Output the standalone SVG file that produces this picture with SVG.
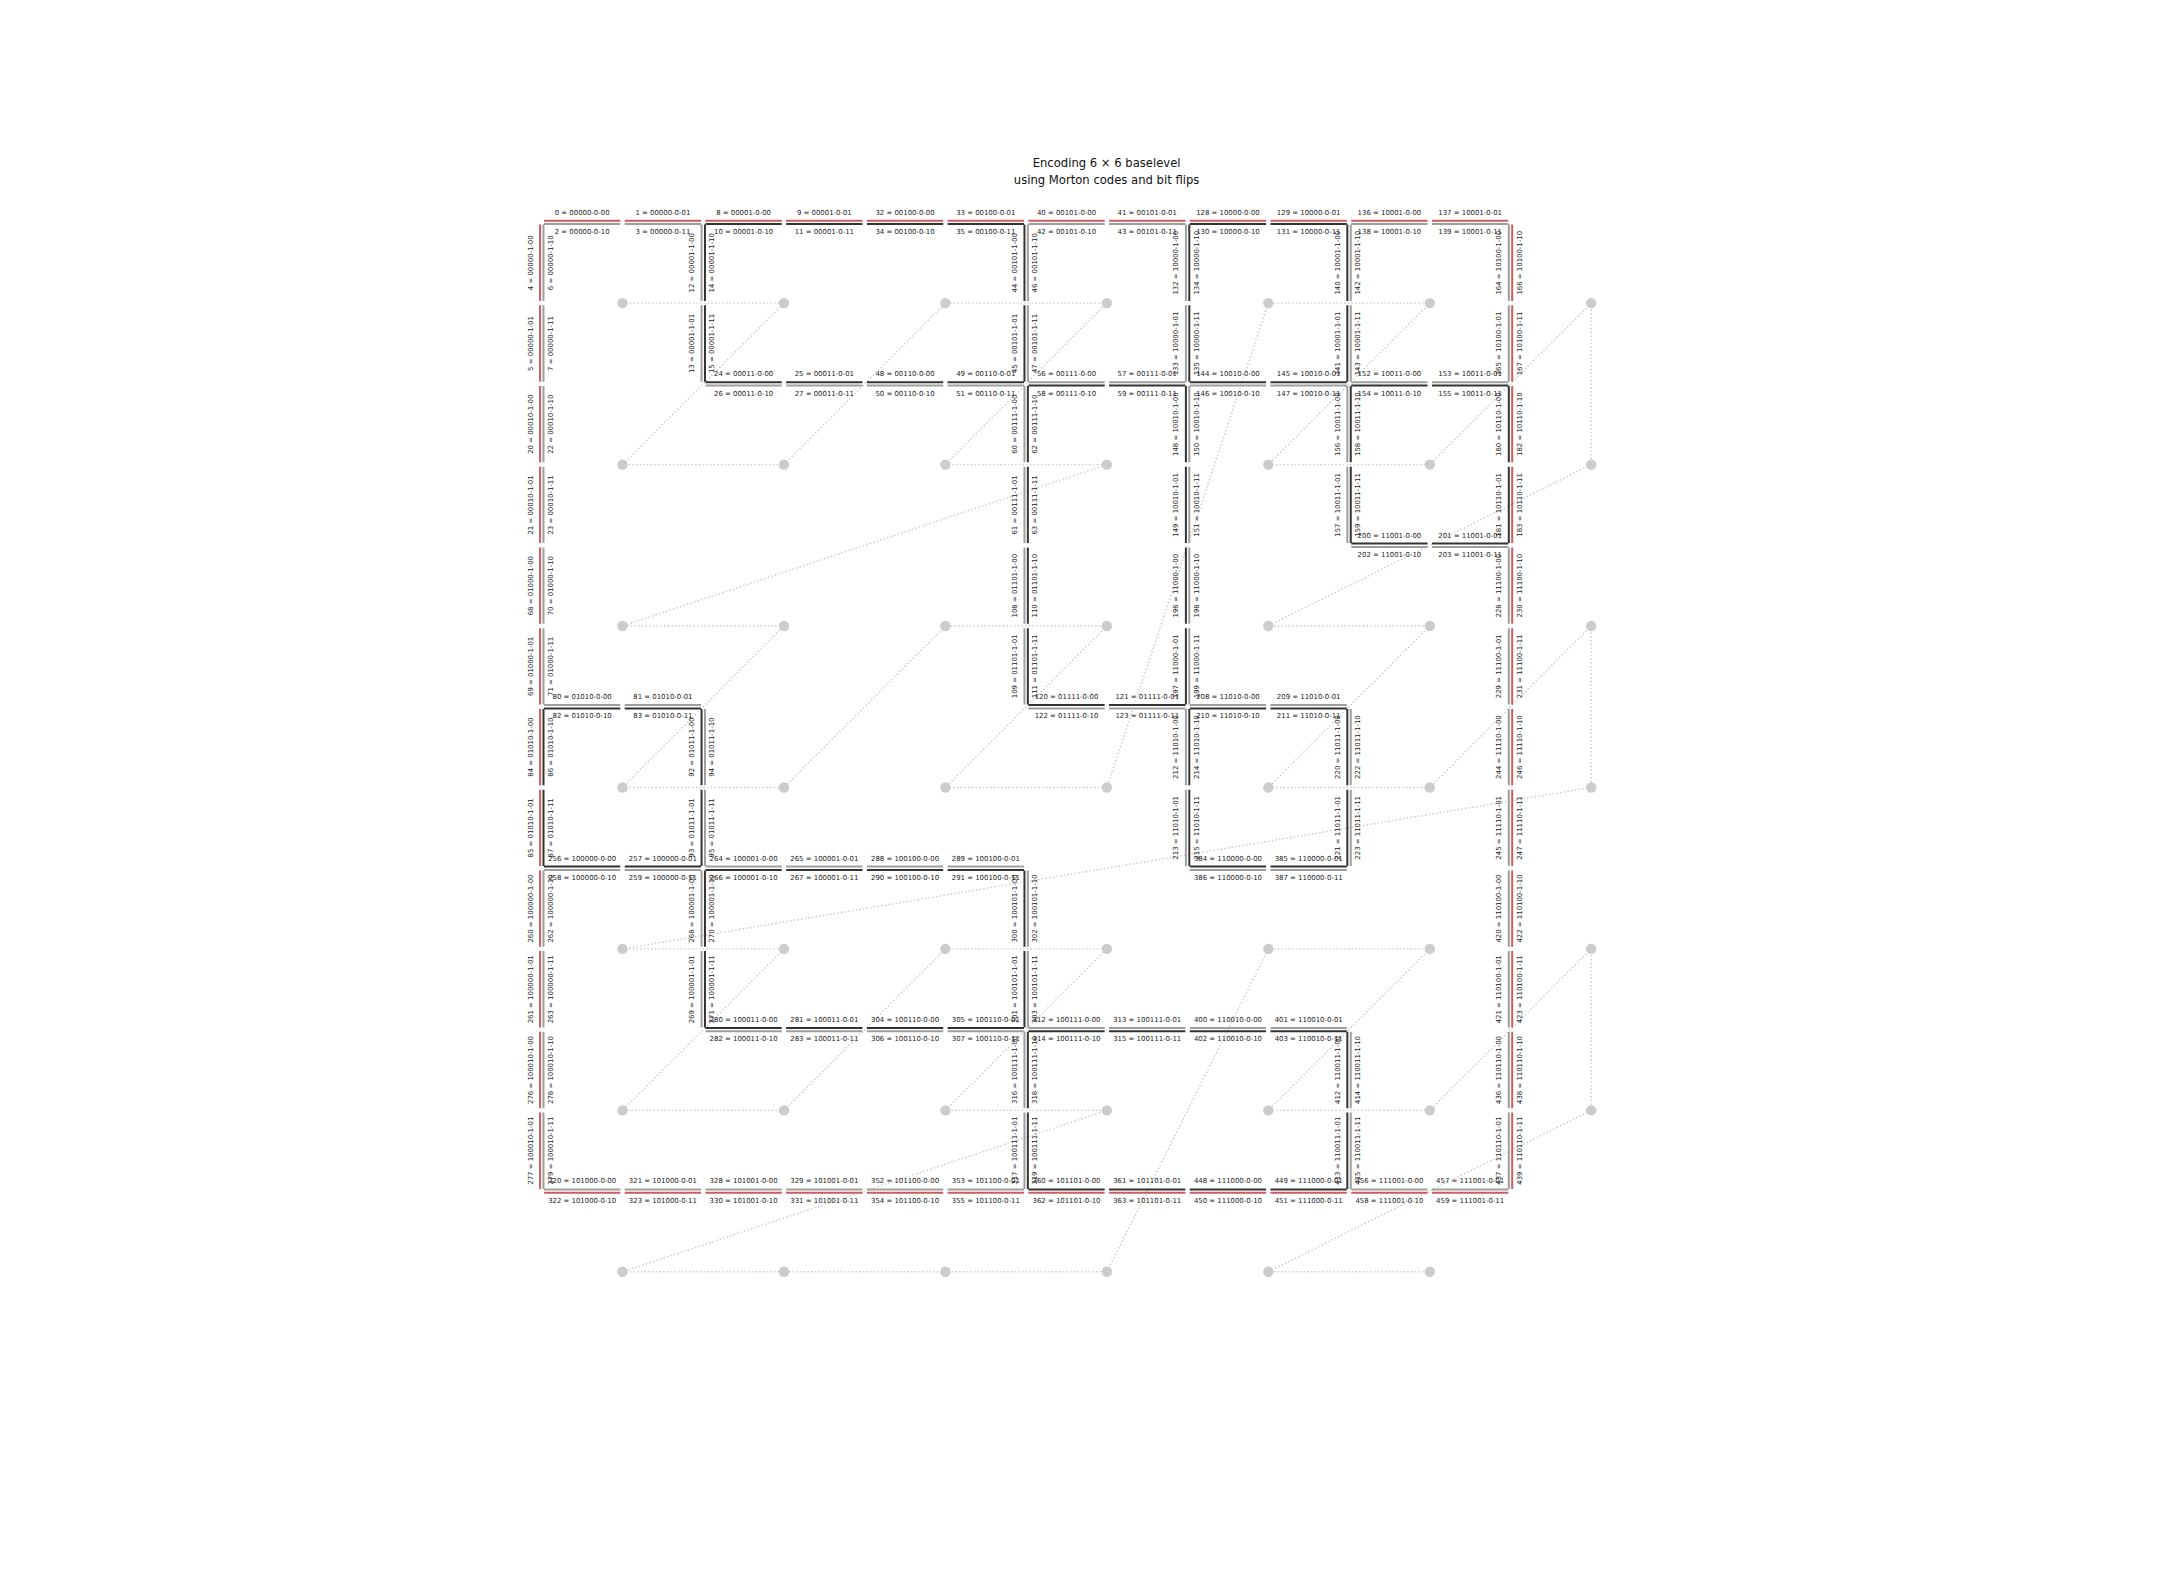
<svg xmlns="http://www.w3.org/2000/svg" xmlns:xlink="http://www.w3.org/1999/xlink" width="2160" height="1584" viewBox="0 0 2160 1584">
<style>
.r{stroke:#cd5c5c}.g{stroke:#9e9e9e}.k{stroke:#333333}
use{fill:none;stroke-width:2}
text{font-family:"DejaVu Sans","Liberation Sans",sans-serif;font-size:6.93px;text-anchor:middle;fill:#222}
text.title{font-size:11.6px;fill:#111}
.curve{fill:none;stroke:#c8c8c8;stroke-width:1.4;stroke-dasharray:1.4 2.3}
.dot{fill:#cccccc}
</style>
<defs>
<path id="ho" d="M2.2 -1.7H78.5M82.9 -1.7H159.25"/>
<path id="hi" d="M2.2 1.7H78.5M82.9 1.7H159.25"/>
<path id="vo" d="M-1.7 2.2V78.5M-1.7 82.9V159.25"/>
<path id="vi" d="M1.7 2.2V78.5M1.7 82.9V159.25"/>
</defs>
<rect width="2160" height="1584" fill="#ffffff"/>
<text class="title" x="1106.6" y="167.3">Encoding 6 × 6 baselevel</text>
<text class="title" x="1106.6" y="183.5">using Morton codes and bit flips</text>

<g id="connectors">
<polyline class="curve" points="622.5,303.1 784,303.1 622.5,464.6 784,464.6 945.4,303.1 1106.9,303.1 945.4,464.6 1106.9,464.6 622.5,626 784,626 622.5,787.5 784,787.5 945.4,626 1106.9,626 945.4,787.5 1106.9,787.5 1268.3,303.1 1429.8,303.1 1268.3,464.6 1429.8,464.6 1591.2,303.1 1591.2,464.6 1268.3,626 1429.8,626 1268.3,787.5 1429.8,787.5 1591.2,626 1591.2,787.5 622.5,948.9 784,948.9 622.5,1110.4 784,1110.4 945.4,948.9 1106.9,948.9 945.4,1110.4 1106.9,1110.4 622.5,1271.8 784,1271.8 945.4,1271.8 1106.9,1271.8 1268.3,948.9 1429.8,948.9 1268.3,1110.4 1429.8,1110.4 1591.2,948.9 1591.2,1110.4 1268.3,1271.8 1429.8,1271.8"/>
</g>

<g id="cells">
<g id="c0"><circle class="dot" cx="622.5" cy="303.1" r="5.2"/></g>
<g id="c1"><circle class="dot" cx="784" cy="303.1" r="5.2"/></g>
<g id="c2"><circle class="dot" cx="622.5" cy="464.6" r="5.2"/></g>
<g id="c3"><circle class="dot" cx="784" cy="464.6" r="5.2"/></g>
<g id="c4"><circle class="dot" cx="945.4" cy="303.1" r="5.2"/></g>
<g id="c5"><circle class="dot" cx="1106.9" cy="303.1" r="5.2"/></g>
<g id="c6"><circle class="dot" cx="945.4" cy="464.6" r="5.2"/></g>
<g id="c7"><circle class="dot" cx="1106.9" cy="464.6" r="5.2"/></g>
<g id="c8"><circle class="dot" cx="622.5" cy="626" r="5.2"/></g>
<g id="c9"><circle class="dot" cx="784" cy="626" r="5.2"/></g>
<g id="c10"><circle class="dot" cx="622.5" cy="787.5" r="5.2"/></g>
<g id="c11"><circle class="dot" cx="784" cy="787.5" r="5.2"/></g>
<g id="c12"><circle class="dot" cx="945.4" cy="626" r="5.2"/></g>
<g id="c13"><circle class="dot" cx="1106.9" cy="626" r="5.2"/></g>
<g id="c14"><circle class="dot" cx="945.4" cy="787.5" r="5.2"/></g>
<g id="c15"><circle class="dot" cx="1106.9" cy="787.5" r="5.2"/></g>
<g id="c16"><circle class="dot" cx="1268.3" cy="303.1" r="5.2"/></g>
<g id="c17"><circle class="dot" cx="1429.8" cy="303.1" r="5.2"/></g>
<g id="c18"><circle class="dot" cx="1268.3" cy="464.6" r="5.2"/></g>
<g id="c19"><circle class="dot" cx="1429.8" cy="464.6" r="5.2"/></g>
<g id="c20"><circle class="dot" cx="1591.2" cy="303.1" r="5.2"/></g>
<g id="c22"><circle class="dot" cx="1591.2" cy="464.6" r="5.2"/></g>
<g id="c24"><circle class="dot" cx="1268.3" cy="626" r="5.2"/></g>
<g id="c25"><circle class="dot" cx="1429.8" cy="626" r="5.2"/></g>
<g id="c26"><circle class="dot" cx="1268.3" cy="787.5" r="5.2"/></g>
<g id="c27"><circle class="dot" cx="1429.8" cy="787.5" r="5.2"/></g>
<g id="c28"><circle class="dot" cx="1591.2" cy="626" r="5.2"/></g>
<g id="c30"><circle class="dot" cx="1591.2" cy="787.5" r="5.2"/></g>
<g id="c32"><circle class="dot" cx="622.5" cy="948.9" r="5.2"/></g>
<g id="c33"><circle class="dot" cx="784" cy="948.9" r="5.2"/></g>
<g id="c34"><circle class="dot" cx="622.5" cy="1110.4" r="5.2"/></g>
<g id="c35"><circle class="dot" cx="784" cy="1110.4" r="5.2"/></g>
<g id="c36"><circle class="dot" cx="945.4" cy="948.9" r="5.2"/></g>
<g id="c37"><circle class="dot" cx="1106.9" cy="948.9" r="5.2"/></g>
<g id="c38"><circle class="dot" cx="945.4" cy="1110.4" r="5.2"/></g>
<g id="c39"><circle class="dot" cx="1106.9" cy="1110.4" r="5.2"/></g>
<g id="c40"><circle class="dot" cx="622.5" cy="1271.8" r="5.2"/></g>
<g id="c41"><circle class="dot" cx="784" cy="1271.8" r="5.2"/></g>
<g id="c44"><circle class="dot" cx="945.4" cy="1271.8" r="5.2"/></g>
<g id="c45"><circle class="dot" cx="1106.9" cy="1271.8" r="5.2"/></g>
<g id="c48"><circle class="dot" cx="1268.3" cy="948.9" r="5.2"/></g>
<g id="c49"><circle class="dot" cx="1429.8" cy="948.9" r="5.2"/></g>
<g id="c50"><circle class="dot" cx="1268.3" cy="1110.4" r="5.2"/></g>
<g id="c51"><circle class="dot" cx="1429.8" cy="1110.4" r="5.2"/></g>
<g id="c52"><circle class="dot" cx="1591.2" cy="948.9" r="5.2"/></g>
<g id="c54"><circle class="dot" cx="1591.2" cy="1110.4" r="5.2"/></g>
<g id="c56"><circle class="dot" cx="1268.3" cy="1271.8" r="5.2"/></g>
<g id="c57"><circle class="dot" cx="1429.8" cy="1271.8" r="5.2"/></g>
</g>

<g id="edges">
<!-- horizontal edges -->
<g id="h0-0" transform="translate(541.8,222.4)"><use href="#ho" class="r"/><use href="#hi" class="g"/><text x="40.36" y="-7.7">0 = 00000-0-00</text><text x="121.09" y="-7.7">1 = 00000-0-01</text><text x="40.36" y="11.7">2 = 00000-0-10</text><text x="121.09" y="11.7">3 = 00000-0-11</text></g>
<g id="h1-0" transform="translate(703.25,222.4)"><use href="#ho" class="r"/><use href="#hi" class="k"/><text x="40.36" y="-7.7">8 = 00001-0-00</text><text x="121.09" y="-7.7">9 = 00001-0-01</text><text x="40.36" y="11.7">10 = 00001-0-10</text><text x="121.09" y="11.7">11 = 00001-0-11</text></g>
<g id="h2-0" transform="translate(864.7,222.4)"><use href="#ho" class="r"/><use href="#hi" class="k"/><text x="40.36" y="-7.7">32 = 00100-0-00</text><text x="121.09" y="-7.7">33 = 00100-0-01</text><text x="40.36" y="11.7">34 = 00100-0-10</text><text x="121.09" y="11.7">35 = 00100-0-11</text></g>
<g id="h3-0" transform="translate(1026.15,222.4)"><use href="#ho" class="r"/><use href="#hi" class="g"/><text x="40.36" y="-7.7">40 = 00101-0-00</text><text x="121.09" y="-7.7">41 = 00101-0-01</text><text x="40.36" y="11.7">42 = 00101-0-10</text><text x="121.09" y="11.7">43 = 00101-0-11</text></g>
<g id="h4-0" transform="translate(1187.6,222.4)"><use href="#ho" class="r"/><use href="#hi" class="k"/><text x="40.36" y="-7.7">128 = 10000-0-00</text><text x="121.09" y="-7.7">129 = 10000-0-01</text><text x="40.36" y="11.7">130 = 10000-0-10</text><text x="121.09" y="11.7">131 = 10000-0-11</text></g>
<g id="h5-0" transform="translate(1349.05,222.4)"><use href="#ho" class="r"/><use href="#hi" class="g"/><text x="40.36" y="-7.7">136 = 10001-0-00</text><text x="121.09" y="-7.7">137 = 10001-0-01</text><text x="40.36" y="11.7">138 = 10001-0-10</text><text x="121.09" y="11.7">139 = 10001-0-11</text></g>
<g id="h1-1" transform="translate(703.25,383.85)"><use href="#ho" class="k"/><use href="#hi" class="g"/><text x="40.36" y="-7.7">24 = 00011-0-00</text><text x="121.09" y="-7.7">25 = 00011-0-01</text><text x="40.36" y="11.7">26 = 00011-0-10</text><text x="121.09" y="11.7">27 = 00011-0-11</text></g>
<g id="h2-1" transform="translate(864.7,383.85)"><use href="#ho" class="k"/><use href="#hi" class="g"/><text x="40.36" y="-7.7">48 = 00110-0-00</text><text x="121.09" y="-7.7">49 = 00110-0-01</text><text x="40.36" y="11.7">50 = 00110-0-10</text><text x="121.09" y="11.7">51 = 00110-0-11</text></g>
<g id="h3-1" transform="translate(1026.15,383.85)"><use href="#ho" class="g"/><use href="#hi" class="k"/><text x="40.36" y="-7.7">56 = 00111-0-00</text><text x="121.09" y="-7.7">57 = 00111-0-01</text><text x="40.36" y="11.7">58 = 00111-0-10</text><text x="121.09" y="11.7">59 = 00111-0-11</text></g>
<g id="h4-1" transform="translate(1187.6,383.85)"><use href="#ho" class="k"/><use href="#hi" class="g"/><text x="40.36" y="-7.7">144 = 10010-0-00</text><text x="121.09" y="-7.7">145 = 10010-0-01</text><text x="40.36" y="11.7">146 = 10010-0-10</text><text x="121.09" y="11.7">147 = 10010-0-11</text></g>
<g id="h5-1" transform="translate(1349.05,383.85)"><use href="#ho" class="g"/><use href="#hi" class="k"/><text x="40.36" y="-7.7">152 = 10011-0-00</text><text x="121.09" y="-7.7">153 = 10011-0-01</text><text x="40.36" y="11.7">154 = 10011-0-10</text><text x="121.09" y="11.7">155 = 10011-0-11</text></g>
<g id="h5-2" transform="translate(1349.05,545.3)"><use href="#ho" class="k"/><use href="#hi" class="g"/><text x="40.36" y="-7.7">200 = 11001-0-00</text><text x="121.09" y="-7.7">201 = 11001-0-01</text><text x="40.36" y="11.7">202 = 11001-0-10</text><text x="121.09" y="11.7">203 = 11001-0-11</text></g>
<g id="h0-3" transform="translate(541.8,706.75)"><use href="#ho" class="g"/><use href="#hi" class="k"/><text x="40.36" y="-7.7">80 = 01010-0-00</text><text x="121.09" y="-7.7">81 = 01010-0-01</text><text x="40.36" y="11.7">82 = 01010-0-10</text><text x="121.09" y="11.7">83 = 01010-0-11</text></g>
<g id="h3-3" transform="translate(1026.15,706.75)"><use href="#ho" class="k"/><use href="#hi" class="g"/><text x="40.36" y="-7.7">120 = 01111-0-00</text><text x="121.09" y="-7.7">121 = 01111-0-01</text><text x="40.36" y="11.7">122 = 01111-0-10</text><text x="121.09" y="11.7">123 = 01111-0-11</text></g>
<g id="h4-3" transform="translate(1187.6,706.75)"><use href="#ho" class="g"/><use href="#hi" class="k"/><text x="40.36" y="-7.7">208 = 11010-0-00</text><text x="121.09" y="-7.7">209 = 11010-0-01</text><text x="40.36" y="11.7">210 = 11010-0-10</text><text x="121.09" y="11.7">211 = 11010-0-11</text></g>
<g id="h0-4" transform="translate(541.8,868.2)"><use href="#ho" class="k"/><use href="#hi" class="g"/><text x="40.36" y="-7.7">256 = 100000-0-00</text><text x="121.09" y="-7.7">257 = 100000-0-01</text><text x="40.36" y="11.7">258 = 100000-0-10</text><text x="121.09" y="11.7">259 = 100000-0-11</text></g>
<g id="h1-4" transform="translate(703.25,868.2)"><use href="#ho" class="g"/><use href="#hi" class="k"/><text x="40.36" y="-7.7">264 = 100001-0-00</text><text x="121.09" y="-7.7">265 = 100001-0-01</text><text x="40.36" y="11.7">266 = 100001-0-10</text><text x="121.09" y="11.7">267 = 100001-0-11</text></g>
<g id="h2-4" transform="translate(864.7,868.2)"><use href="#ho" class="g"/><use href="#hi" class="k"/><text x="40.36" y="-7.7">288 = 100100-0-00</text><text x="121.09" y="-7.7">289 = 100100-0-01</text><text x="40.36" y="11.7">290 = 100100-0-10</text><text x="121.09" y="11.7">291 = 100100-0-11</text></g>
<g id="h4-4" transform="translate(1187.6,868.2)"><use href="#ho" class="k"/><use href="#hi" class="g"/><text x="40.36" y="-7.7">384 = 110000-0-00</text><text x="121.09" y="-7.7">385 = 110000-0-01</text><text x="40.36" y="11.7">386 = 110000-0-10</text><text x="121.09" y="11.7">387 = 110000-0-11</text></g>
<g id="h1-5" transform="translate(703.25,1029.65)"><use href="#ho" class="k"/><use href="#hi" class="g"/><text x="40.36" y="-7.7">280 = 100011-0-00</text><text x="121.09" y="-7.7">281 = 100011-0-01</text><text x="40.36" y="11.7">282 = 100011-0-10</text><text x="121.09" y="11.7">283 = 100011-0-11</text></g>
<g id="h2-5" transform="translate(864.7,1029.65)"><use href="#ho" class="k"/><use href="#hi" class="g"/><text x="40.36" y="-7.7">304 = 100110-0-00</text><text x="121.09" y="-7.7">305 = 100110-0-01</text><text x="40.36" y="11.7">306 = 100110-0-10</text><text x="121.09" y="11.7">307 = 100110-0-11</text></g>
<g id="h3-5" transform="translate(1026.15,1029.65)"><use href="#ho" class="g"/><use href="#hi" class="k"/><text x="40.36" y="-7.7">312 = 100111-0-00</text><text x="121.09" y="-7.7">313 = 100111-0-01</text><text x="40.36" y="11.7">314 = 100111-0-10</text><text x="121.09" y="11.7">315 = 100111-0-11</text></g>
<g id="h4-5" transform="translate(1187.6,1029.65)"><use href="#ho" class="g"/><use href="#hi" class="k"/><text x="40.36" y="-7.7">400 = 110010-0-00</text><text x="121.09" y="-7.7">401 = 110010-0-01</text><text x="40.36" y="11.7">402 = 110010-0-10</text><text x="121.09" y="11.7">403 = 110010-0-11</text></g>
<g id="h0-6" transform="translate(541.8,1191.1)"><use href="#ho" class="g"/><use href="#hi" class="r"/><text x="40.36" y="-7.7">320 = 101000-0-00</text><text x="121.09" y="-7.7">321 = 101000-0-01</text><text x="40.36" y="11.7">322 = 101000-0-10</text><text x="121.09" y="11.7">323 = 101000-0-11</text></g>
<g id="h1-6" transform="translate(703.25,1191.1)"><use href="#ho" class="g"/><use href="#hi" class="r"/><text x="40.36" y="-7.7">328 = 101001-0-00</text><text x="121.09" y="-7.7">329 = 101001-0-01</text><text x="40.36" y="11.7">330 = 101001-0-10</text><text x="121.09" y="11.7">331 = 101001-0-11</text></g>
<g id="h2-6" transform="translate(864.7,1191.1)"><use href="#ho" class="g"/><use href="#hi" class="r"/><text x="40.36" y="-7.7">352 = 101100-0-00</text><text x="121.09" y="-7.7">353 = 101100-0-01</text><text x="40.36" y="11.7">354 = 101100-0-10</text><text x="121.09" y="11.7">355 = 101100-0-11</text></g>
<g id="h3-6" transform="translate(1026.15,1191.1)"><use href="#ho" class="k"/><use href="#hi" class="r"/><text x="40.36" y="-7.7">360 = 101101-0-00</text><text x="121.09" y="-7.7">361 = 101101-0-01</text><text x="40.36" y="11.7">362 = 101101-0-10</text><text x="121.09" y="11.7">363 = 101101-0-11</text></g>
<g id="h4-6" transform="translate(1187.6,1191.1)"><use href="#ho" class="k"/><use href="#hi" class="r"/><text x="40.36" y="-7.7">448 = 111000-0-00</text><text x="121.09" y="-7.7">449 = 111000-0-01</text><text x="40.36" y="11.7">450 = 111000-0-10</text><text x="121.09" y="11.7">451 = 111000-0-11</text></g>
<g id="h5-6" transform="translate(1349.05,1191.1)"><use href="#ho" class="g"/><use href="#hi" class="r"/><text x="40.36" y="-7.7">456 = 111001-0-00</text><text x="121.09" y="-7.7">457 = 111001-0-01</text><text x="40.36" y="11.7">458 = 111001-0-10</text><text x="121.09" y="11.7">459 = 111001-0-11</text></g>
<!-- vertical edges -->
<g id="v0-0" transform="translate(541.8,222.4)"><use href="#vo" class="r"/><use href="#vi" class="g"/><text transform="translate(-9.2,40.36) rotate(-90)">4 = 00000-1-00</text><text transform="translate(-9.2,121.09) rotate(-90)">5 = 00000-1-01</text><text transform="translate(11,40.36) rotate(-90)">6 = 00000-1-10</text><text transform="translate(11,121.09) rotate(-90)">7 = 00000-1-11</text></g>
<g id="v0-1" transform="translate(541.8,383.85)"><use href="#vo" class="r"/><use href="#vi" class="g"/><text transform="translate(-9.2,40.36) rotate(-90)">20 = 00010-1-00</text><text transform="translate(-9.2,121.09) rotate(-90)">21 = 00010-1-01</text><text transform="translate(11,40.36) rotate(-90)">22 = 00010-1-10</text><text transform="translate(11,121.09) rotate(-90)">23 = 00010-1-11</text></g>
<g id="v0-2" transform="translate(541.8,545.3)"><use href="#vo" class="r"/><use href="#vi" class="g"/><text transform="translate(-9.2,40.36) rotate(-90)">68 = 01000-1-00</text><text transform="translate(-9.2,121.09) rotate(-90)">69 = 01000-1-01</text><text transform="translate(11,40.36) rotate(-90)">70 = 01000-1-10</text><text transform="translate(11,121.09) rotate(-90)">71 = 01000-1-11</text></g>
<g id="v0-3" transform="translate(541.8,706.75)"><use href="#vo" class="r"/><use href="#vi" class="k"/><text transform="translate(-9.2,40.36) rotate(-90)">84 = 01010-1-00</text><text transform="translate(-9.2,121.09) rotate(-90)">85 = 01010-1-01</text><text transform="translate(11,40.36) rotate(-90)">86 = 01010-1-10</text><text transform="translate(11,121.09) rotate(-90)">87 = 01010-1-11</text></g>
<g id="v0-4" transform="translate(541.8,868.2)"><use href="#vo" class="r"/><use href="#vi" class="g"/><text transform="translate(-9.2,40.36) rotate(-90)">260 = 100000-1-00</text><text transform="translate(-9.2,121.09) rotate(-90)">261 = 100000-1-01</text><text transform="translate(11,40.36) rotate(-90)">262 = 100000-1-10</text><text transform="translate(11,121.09) rotate(-90)">263 = 100000-1-11</text></g>
<g id="v0-5" transform="translate(541.8,1029.65)"><use href="#vo" class="r"/><use href="#vi" class="g"/><text transform="translate(-9.2,40.36) rotate(-90)">276 = 100010-1-00</text><text transform="translate(-9.2,121.09) rotate(-90)">277 = 100010-1-01</text><text transform="translate(11,40.36) rotate(-90)">278 = 100010-1-10</text><text transform="translate(11,121.09) rotate(-90)">279 = 100010-1-11</text></g>
<g id="v1-0" transform="translate(703.25,222.4)"><use href="#vo" class="g"/><use href="#vi" class="k"/><text transform="translate(-9.2,40.36) rotate(-90)">12 = 00001-1-00</text><text transform="translate(-9.2,121.09) rotate(-90)">13 = 00001-1-01</text><text transform="translate(11,40.36) rotate(-90)">14 = 00001-1-10</text><text transform="translate(11,121.09) rotate(-90)">15 = 00001-1-11</text></g>
<g id="v1-3" transform="translate(703.25,706.75)"><use href="#vo" class="k"/><use href="#vi" class="g"/><text transform="translate(-9.2,40.36) rotate(-90)">92 = 01011-1-00</text><text transform="translate(-9.2,121.09) rotate(-90)">93 = 01011-1-01</text><text transform="translate(11,40.36) rotate(-90)">94 = 01011-1-10</text><text transform="translate(11,121.09) rotate(-90)">95 = 01011-1-11</text></g>
<g id="v1-4" transform="translate(703.25,868.2)"><use href="#vo" class="g"/><use href="#vi" class="k"/><text transform="translate(-9.2,40.36) rotate(-90)">268 = 100001-1-00</text><text transform="translate(-9.2,121.09) rotate(-90)">269 = 100001-1-01</text><text transform="translate(11,40.36) rotate(-90)">270 = 100001-1-10</text><text transform="translate(11,121.09) rotate(-90)">271 = 100001-1-11</text></g>
<g id="v3-0" transform="translate(1026.15,222.4)"><use href="#vo" class="k"/><use href="#vi" class="g"/><text transform="translate(-9.2,40.36) rotate(-90)">44 = 00101-1-00</text><text transform="translate(-9.2,121.09) rotate(-90)">45 = 00101-1-01</text><text transform="translate(11,40.36) rotate(-90)">46 = 00101-1-10</text><text transform="translate(11,121.09) rotate(-90)">47 = 00101-1-11</text></g>
<g id="v3-1" transform="translate(1026.15,383.85)"><use href="#vo" class="g"/><use href="#vi" class="k"/><text transform="translate(-9.2,40.36) rotate(-90)">60 = 00111-1-00</text><text transform="translate(-9.2,121.09) rotate(-90)">61 = 00111-1-01</text><text transform="translate(11,40.36) rotate(-90)">62 = 00111-1-10</text><text transform="translate(11,121.09) rotate(-90)">63 = 00111-1-11</text></g>
<g id="v3-2" transform="translate(1026.15,545.3)"><use href="#vo" class="g"/><use href="#vi" class="k"/><text transform="translate(-9.2,40.36) rotate(-90)">108 = 01101-1-00</text><text transform="translate(-9.2,121.09) rotate(-90)">109 = 01101-1-01</text><text transform="translate(11,40.36) rotate(-90)">110 = 01101-1-10</text><text transform="translate(11,121.09) rotate(-90)">111 = 01101-1-11</text></g>
<g id="v3-4" transform="translate(1026.15,868.2)"><use href="#vo" class="k"/><use href="#vi" class="g"/><text transform="translate(-9.2,40.36) rotate(-90)">300 = 100101-1-00</text><text transform="translate(-9.2,121.09) rotate(-90)">301 = 100101-1-01</text><text transform="translate(11,40.36) rotate(-90)">302 = 100101-1-10</text><text transform="translate(11,121.09) rotate(-90)">303 = 100101-1-11</text></g>
<g id="v3-5" transform="translate(1026.15,1029.65)"><use href="#vo" class="g"/><use href="#vi" class="k"/><text transform="translate(-9.2,40.36) rotate(-90)">316 = 100111-1-00</text><text transform="translate(-9.2,121.09) rotate(-90)">317 = 100111-1-01</text><text transform="translate(11,40.36) rotate(-90)">318 = 100111-1-10</text><text transform="translate(11,121.09) rotate(-90)">319 = 100111-1-11</text></g>
<g id="v4-0" transform="translate(1187.6,222.4)"><use href="#vo" class="g"/><use href="#vi" class="k"/><text transform="translate(-9.2,40.36) rotate(-90)">132 = 10000-1-00</text><text transform="translate(-9.2,121.09) rotate(-90)">133 = 10000-1-01</text><text transform="translate(11,40.36) rotate(-90)">134 = 10000-1-10</text><text transform="translate(11,121.09) rotate(-90)">135 = 10000-1-11</text></g>
<g id="v4-1" transform="translate(1187.6,383.85)"><use href="#vo" class="k"/><use href="#vi" class="g"/><text transform="translate(-9.2,40.36) rotate(-90)">148 = 10010-1-00</text><text transform="translate(-9.2,121.09) rotate(-90)">149 = 10010-1-01</text><text transform="translate(11,40.36) rotate(-90)">150 = 10010-1-10</text><text transform="translate(11,121.09) rotate(-90)">151 = 10010-1-11</text></g>
<g id="v4-2" transform="translate(1187.6,545.3)"><use href="#vo" class="k"/><use href="#vi" class="g"/><text transform="translate(-9.2,40.36) rotate(-90)">196 = 11000-1-00</text><text transform="translate(-9.2,121.09) rotate(-90)">197 = 11000-1-01</text><text transform="translate(11,40.36) rotate(-90)">198 = 11000-1-10</text><text transform="translate(11,121.09) rotate(-90)">199 = 11000-1-11</text></g>
<g id="v4-3" transform="translate(1187.6,706.75)"><use href="#vo" class="g"/><use href="#vi" class="k"/><text transform="translate(-9.2,40.36) rotate(-90)">212 = 11010-1-00</text><text transform="translate(-9.2,121.09) rotate(-90)">213 = 11010-1-01</text><text transform="translate(11,40.36) rotate(-90)">214 = 11010-1-10</text><text transform="translate(11,121.09) rotate(-90)">215 = 11010-1-11</text></g>
<g id="v5-0" transform="translate(1349.05,222.4)"><use href="#vo" class="k"/><use href="#vi" class="g"/><text transform="translate(-9.2,40.36) rotate(-90)">140 = 10001-1-00</text><text transform="translate(-9.2,121.09) rotate(-90)">141 = 10001-1-01</text><text transform="translate(11,40.36) rotate(-90)">142 = 10001-1-10</text><text transform="translate(11,121.09) rotate(-90)">143 = 10001-1-11</text></g>
<g id="v5-1" transform="translate(1349.05,383.85)"><use href="#vo" class="g"/><use href="#vi" class="k"/><text transform="translate(-9.2,40.36) rotate(-90)">156 = 10011-1-00</text><text transform="translate(-9.2,121.09) rotate(-90)">157 = 10011-1-01</text><text transform="translate(11,40.36) rotate(-90)">158 = 10011-1-10</text><text transform="translate(11,121.09) rotate(-90)">159 = 10011-1-11</text></g>
<g id="v5-3" transform="translate(1349.05,706.75)"><use href="#vo" class="k"/><use href="#vi" class="g"/><text transform="translate(-9.2,40.36) rotate(-90)">220 = 11011-1-00</text><text transform="translate(-9.2,121.09) rotate(-90)">221 = 11011-1-01</text><text transform="translate(11,40.36) rotate(-90)">222 = 11011-1-10</text><text transform="translate(11,121.09) rotate(-90)">223 = 11011-1-11</text></g>
<g id="v5-5" transform="translate(1349.05,1029.65)"><use href="#vo" class="k"/><use href="#vi" class="g"/><text transform="translate(-9.2,40.36) rotate(-90)">412 = 110011-1-00</text><text transform="translate(-9.2,121.09) rotate(-90)">413 = 110011-1-01</text><text transform="translate(11,40.36) rotate(-90)">414 = 110011-1-10</text><text transform="translate(11,121.09) rotate(-90)">415 = 110011-1-11</text></g>
<g id="v6-0" transform="translate(1510.5,222.4)"><use href="#vo" class="g"/><use href="#vi" class="r"/><text transform="translate(-9.2,40.36) rotate(-90)">164 = 10100-1-00</text><text transform="translate(-9.2,121.09) rotate(-90)">165 = 10100-1-01</text><text transform="translate(11,40.36) rotate(-90)">166 = 10100-1-10</text><text transform="translate(11,121.09) rotate(-90)">167 = 10100-1-11</text></g>
<g id="v6-1" transform="translate(1510.5,383.85)"><use href="#vo" class="k"/><use href="#vi" class="r"/><text transform="translate(-9.2,40.36) rotate(-90)">180 = 10110-1-00</text><text transform="translate(-9.2,121.09) rotate(-90)">181 = 10110-1-01</text><text transform="translate(11,40.36) rotate(-90)">182 = 10110-1-10</text><text transform="translate(11,121.09) rotate(-90)">183 = 10110-1-11</text></g>
<g id="v6-2" transform="translate(1510.5,545.3)"><use href="#vo" class="g"/><use href="#vi" class="r"/><text transform="translate(-9.2,40.36) rotate(-90)">228 = 11100-1-00</text><text transform="translate(-9.2,121.09) rotate(-90)">229 = 11100-1-01</text><text transform="translate(11,40.36) rotate(-90)">230 = 11100-1-10</text><text transform="translate(11,121.09) rotate(-90)">231 = 11100-1-11</text></g>
<g id="v6-3" transform="translate(1510.5,706.75)"><use href="#vo" class="g"/><use href="#vi" class="r"/><text transform="translate(-9.2,40.36) rotate(-90)">244 = 11110-1-00</text><text transform="translate(-9.2,121.09) rotate(-90)">245 = 11110-1-01</text><text transform="translate(11,40.36) rotate(-90)">246 = 11110-1-10</text><text transform="translate(11,121.09) rotate(-90)">247 = 11110-1-11</text></g>
<g id="v6-4" transform="translate(1510.5,868.2)"><use href="#vo" class="g"/><use href="#vi" class="r"/><text transform="translate(-9.2,40.36) rotate(-90)">420 = 110100-1-00</text><text transform="translate(-9.2,121.09) rotate(-90)">421 = 110100-1-01</text><text transform="translate(11,40.36) rotate(-90)">422 = 110100-1-10</text><text transform="translate(11,121.09) rotate(-90)">423 = 110100-1-11</text></g>
<g id="v6-5" transform="translate(1510.5,1029.65)"><use href="#vo" class="g"/><use href="#vi" class="r"/><text transform="translate(-9.2,40.36) rotate(-90)">436 = 110110-1-00</text><text transform="translate(-9.2,121.09) rotate(-90)">437 = 110110-1-01</text><text transform="translate(11,40.36) rotate(-90)">438 = 110110-1-10</text><text transform="translate(11,121.09) rotate(-90)">439 = 110110-1-11</text></g>
</g>
</svg>
